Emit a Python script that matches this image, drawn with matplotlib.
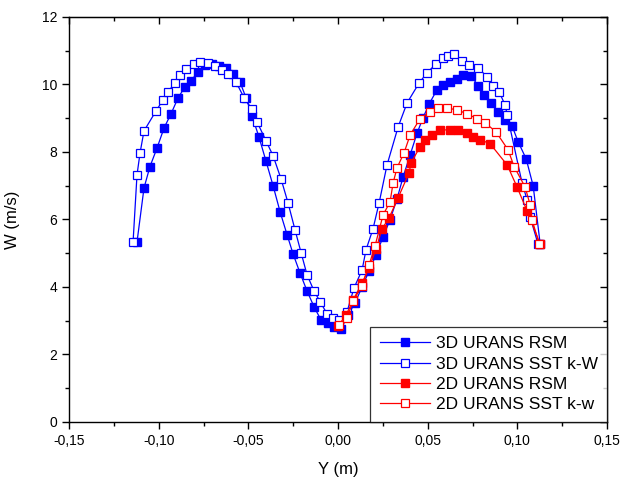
import matplotlib
matplotlib.use("Agg")
import matplotlib.pyplot as plt
from matplotlib.ticker import MultipleLocator, FuncFormatter

# 3D URANS RSM (filled blue)
y_3d_rsm = [-0.1121, -0.1082, -0.1049, -0.1009, -0.0970, -0.0931, -0.0892, -0.0853, -0.0820,
            -0.0781, -0.0742, -0.0703, -0.0664, -0.0625, -0.0586, -0.0547, -0.0513, -0.0480,
            -0.0441, -0.0402, -0.0362, -0.0323, -0.0284, -0.0251, -0.0212, -0.0173, -0.0134,
            -0.0095, -0.0056, -0.0022, 0.0017, 0.0056, 0.0095, 0.0134, 0.0173, 0.0212, 0.0251,
            0.0290, 0.0329, 0.0363, 0.0402, 0.0441, 0.0474, 0.0508, 0.0552, 0.0586, 0.0625,
            0.0664, 0.0697, 0.0742, 0.0781, 0.0814, 0.0853, 0.0892, 0.0931, 0.0970, 0.1004,
            0.1049, 0.1088, 0.1127]
w_3d_rsm = [5.33, 6.93, 7.56, 8.12, 8.71, 9.13, 9.60, 9.93, 10.10,
            10.37, 10.58, 10.61, 10.55, 10.49, 10.31, 10.07, 9.60, 9.07,
            8.44, 7.73, 6.99, 6.22, 5.54, 4.98, 4.41, 3.88, 3.41,
            3.02, 2.93, 2.81, 2.76, 3.17, 3.53, 4.00, 4.47, 4.95, 5.48,
            5.99, 6.61, 7.26, 7.91, 8.56, 9.01, 9.42, 9.84, 9.99, 10.07,
            10.16, 10.28, 10.25, 9.96, 9.69, 9.45, 9.19, 8.95, 8.77, 8.30,
            7.79, 6.99, 5.27]

# 3D URANS SST k-W (open blue)
y_3d_sst = [-0.1143, -0.1121, -0.1104, -0.1082, -0.1015, -0.0976, -0.0948, -0.0909, -0.0881,
            -0.0848, -0.0803, -0.0770, -0.0725, -0.0686, -0.0647, -0.0613, -0.0569, -0.0524,
            -0.0480, -0.0452, -0.0402, -0.0362, -0.0318, -0.0279, -0.0240, -0.0206, -0.0173,
            -0.0134, -0.0100, -0.0061, -0.0030, 0.0005, 0.0050, 0.0089, 0.0134, 0.0156,
            0.0195, 0.0229, 0.0273, 0.0335, 0.0385, 0.0452, 0.0496, 0.0547, 0.0586, 0.0614,
            0.0647, 0.0692, 0.0731, 0.0781, 0.0831, 0.0864, 0.0898, 0.0931, 0.0943, 0.1026,
            0.1054, 0.1071, 0.1115]
w_3d_sst = [5.33, 7.32, 7.97, 8.62, 9.21, 9.54, 9.78, 10.04, 10.28,
            10.46, 10.61, 10.67, 10.64, 10.55, 10.43, 10.31, 10.07, 9.60,
            9.27, 8.89, 8.33, 7.88, 7.20, 6.49, 5.69, 5.01, 4.36,
            3.88, 3.56, 3.20, 3.08, 3.02, 3.26, 3.97, 4.50, 5.10,
            5.72, 6.49, 7.61, 8.74, 9.45, 10.04, 10.34, 10.61, 10.79, 10.84,
            10.90, 10.70, 10.58, 10.49, 10.22, 9.96, 9.78, 9.39, 9.10, 7.08,
            6.58, 6.07, 5.27]

# 2D URANS RSM (filled red)
y_2d_rsm = [0.0000, 0.0045, 0.0084, 0.0134, 0.0173, 0.0212, 0.0245, 0.0284, 0.0335, 0.0396,
            0.0407, 0.0457, 0.0485, 0.0524, 0.0569, 0.0625, 0.0669, 0.0719, 0.0753, 0.0792,
            0.0848, 0.0943, 0.0998, 0.1054, 0.1127]
w_2d_rsm = [2.84, 3.17, 3.61, 4.12, 4.56, 5.13, 5.72, 6.04, 6.64, 7.38,
            7.67, 8.15, 8.36, 8.50, 8.65, 8.65, 8.65, 8.56, 8.44, 8.36,
            8.24, 7.61, 6.96, 6.25, 5.27]

# 2D URANS SST k-w (open red)
y_2d_sst = [0.0006, 0.0050, 0.0084, 0.0134, 0.0173, 0.0206, 0.0251, 0.0290, 0.0307, 0.0329,
            0.0368, 0.0402, 0.0457, 0.0513, 0.0558, 0.0608, 0.0664, 0.0719, 0.0775, 0.0820,
            0.0881, 0.0948, 0.0982, 0.1043, 0.1071, 0.1082, 0.1121]
w_2d_sst = [2.87, 3.08, 3.59, 4.03, 4.65, 5.21, 6.13, 6.52, 7.08, 7.53,
            7.97, 8.50, 8.98, 9.19, 9.30, 9.30, 9.24, 9.13, 8.98, 8.86,
            8.59, 8.06, 7.56, 6.96, 6.43, 5.99, 5.27]

plt.rcParams['font.family'] = ['Liberation Sans', 'DejaVu Sans']

fig = plt.figure(figsize=(6.22, 4.8), dpi=100)
ax = fig.add_axes([0.111, 0.121, 0.865, 0.844])

ax.plot(y_3d_rsm, w_3d_rsm, color="#0000ff", lw=0.9, marker="s", ms=5.5,
        mfc="#0000ff", mec="#0000ff", label="3D URANS RSM")
ax.plot(y_3d_sst, w_3d_sst, color="#0000ff", lw=0.9, marker="s", ms=5.5,
        mfc="white", mec="#0000ff", mew=0.9, label="3D URANS SST k-W")
ax.plot(y_2d_rsm, w_2d_rsm, color="#ff0000", lw=0.9, marker="s", ms=5.5,
        mfc="#ff0000", mec="#ff0000", label="2D URANS RSM")
ax.plot(y_2d_sst, w_2d_sst, color="#ff0000", lw=0.9, marker="s", ms=5.5,
        mfc="white", mec="#ff0000", mew=0.9, label="2D URANS SST k-w")

ax.set_xlim(-0.15, 0.15)
ax.set_ylim(0, 12)
ax.xaxis.set_major_locator(MultipleLocator(0.05))
ax.xaxis.set_minor_locator(MultipleLocator(0.025))
ax.yaxis.set_major_locator(MultipleLocator(2))
ax.yaxis.set_minor_locator(MultipleLocator(1))
ax.xaxis.set_major_formatter(FuncFormatter(lambda v, p: f"{v:.2f}".replace(".", ",").replace("-0,00", "0,00")))
ax.yaxis.set_major_formatter(FuncFormatter(lambda v, p: f"{v:.0f}"))

ax.tick_params(which="both", direction="out", top=False, right=False, labelsize=10, width=1)
ax.tick_params(which="major", length=5)
ax.tick_params(which="minor", length=3)
for s in ax.spines.values():
    s.set_linewidth(1)

# inward ticks on top and right
ax_t = ax.secondary_xaxis("top")
ax_t.xaxis.set_major_locator(MultipleLocator(0.05))
ax_t.xaxis.set_minor_locator(MultipleLocator(0.025))
ax_t.tick_params(which="both", direction="in", labeltop=False, width=1)
ax_t.tick_params(which="major", length=5)
ax_t.tick_params(which="minor", length=3)
ax_r = ax.secondary_yaxis("right")
ax_r.yaxis.set_major_locator(MultipleLocator(2))
ax_r.yaxis.set_minor_locator(MultipleLocator(1))
ax_r.tick_params(which="both", direction="in", labelright=False, width=1)
ax_r.tick_params(which="major", length=5)
ax_r.tick_params(which="minor", length=3)

ax.set_xlabel("Y (m)", fontsize=12, labelpad=10)
ax.set_ylabel("W (m/s)", fontsize=12, labelpad=16)

leg = ax.legend(loc="lower right", fontsize=12.5, frameon=True, fancybox=False,
                edgecolor="black", borderaxespad=0, handlelength=2.9,
                handletextpad=0.3, labelspacing=0.3, borderpad=0.55)
leg.get_frame().set_linewidth(0.9)

plt.savefig("out.png", dpi=100)
